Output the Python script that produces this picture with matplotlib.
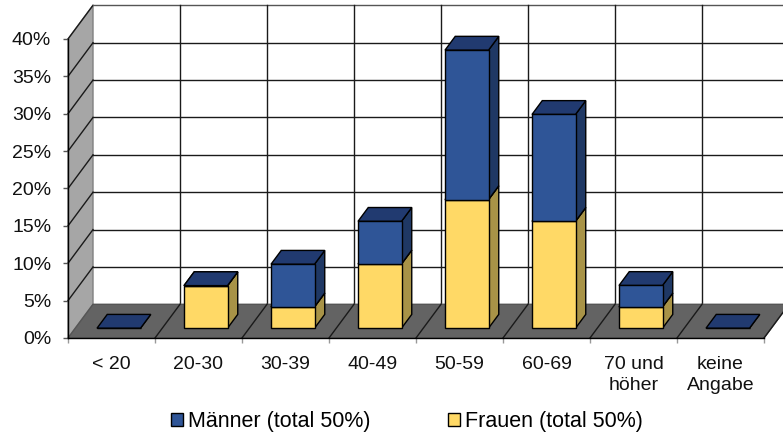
import matplotlib
matplotlib.use('Agg')
import matplotlib.pyplot as plt
from matplotlib.patches import Polygon, Patch

plt.rcParams['font.family'] = ['Liberation Sans', 'DejaVu Sans']

categories = ['< 20', '20-30', '30-39', '40-49', '50-59', '60-69', '70 und\nhöher', 'keine\nAngabe']
frauen = [0, 5.7, 2.86, 8.6, 17.2, 14.3, 2.86, 0]
maenner = [0, 0, 5.7, 5.7, 20.0, 14.3, 2.86, 0]
y_ticks = [0, 5, 10, 15, 20, 25, 30, 35, 40]

W, H = 783, 437
# plot frame in pixels (front plane)
left, right, bottom, top = 68, 764, 338, 39
# how far the back wall is shifted, in data units
depth_x = 25 / 87
depth_y = 33.7 / 7.475

GRID = '#1a1a1a'
BLUE_TOP = '#213a70'
BLUE_SIDE = '#1f3864'


def proj(x, y, z):
    return (x + z * depth_x, y + z * depth_y)


def poly(ax, pts, fc, ec='black', lw=1.0, zorder=3):
    ax.add_patch(Polygon(pts, closed=True, facecolor=fc, edgecolor=ec, linewidth=lw,
                         joinstyle='miter', clip_on=False, zorder=zorder))


def box(ax, x0, x1, y0, y1, z0, z1, front, side, topc, zorder):
    poly(ax, [proj(x1, y0, z0), proj(x1, y0, z1), proj(x1, y1, z1), proj(x1, y1, z0)], side, zorder=zorder)
    poly(ax, [proj(x0, y1, z0), proj(x1, y1, z0), proj(x1, y1, z1), proj(x0, y1, z1)], topc, zorder=zorder)
    poly(ax, [proj(x0, y0, z0), proj(x1, y0, z0), proj(x1, y1, z0), proj(x0, y1, z0)], front, zorder=zorder)


fig = plt.figure(figsize=(W / 100, H / 100), dpi=100, facecolor='white')
ax = fig.add_axes([left / W, 1 - bottom / H, (right - left) / W, (bottom - top) / H])
ax.set_xlim(0, 8)
ax.set_ylim(0, 40)
ax.patch.set_visible(False)
for s in ['top', 'right']:
    ax.spines[s].set_visible(False)
for s in ['left', 'bottom']:
    ax.spines[s].set_linewidth(1.0)
    ax.spines[s].set_zorder(4)

# side wall and floor
poly(ax, [proj(0, 0, 0), proj(0, 0, 1), proj(0, 40, 1), proj(0, 40, 0)], '#a6a6a6', ec='#808080', zorder=1)
poly(ax, [proj(0, 0, 0), proj(8, 0, 0), proj(8, 0, 1), proj(0, 0, 1)], '#636363', ec='#555555', zorder=2)

# grid on the walls
for y in y_ticks[1:]:
    ax.plot(*zip(proj(0, y, 0), proj(0, y, 1)), color=GRID, lw=1.0, clip_on=False, zorder=1.5)
    ax.plot(*zip(proj(0, y, 1), proj(8, y, 1)), color=GRID if y < 40 else '#555555', lw=1.0, clip_on=False, zorder=1.5)
for i in range(1, 9):
    ax.plot(*zip(proj(i, 0, 1), proj(i, 40, 1)), color=GRID, lw=1.0, clip_on=False, zorder=1.5)
    ax.plot(*zip(proj(i, 0, 0), proj(i, 0, 1)), color=GRID, lw=1.0, clip_on=False, zorder=2.5)

# bars
for i in range(len(categories)):
    x0, x1 = i + 0.25, i + 0.75
    z0, z1 = 0.29, 0.70
    zo = 3 + i * 0.1
    if frauen[i] > 0:
        box(ax, x0, x1, 0, frauen[i], z0, z1, '#ffd966', '#a89347', '#ffd966', zo)
    if maenner[i] > 0:
        box(ax, x0, x1, frauen[i], frauen[i] + maenner[i], z0, z1, '#2f5597', BLUE_SIDE, BLUE_TOP, zo + 0.01)
    else:
        # no men in this group: only the flat top shows
        box(ax, x0, x1, frauen[i], frauen[i], z0, z1, BLUE_TOP, BLUE_SIDE, BLUE_TOP, zo + 0.01)

# axes ticks
ax.set_yticks(y_ticks)
ax.set_yticklabels(['%d%%' % y for y in y_ticks], fontsize=14, color='#111111')
ax.tick_params(axis='y', length=3.6, width=1, color='#555555', pad=8.5)
ax.set_xticks(range(9))
ax.set_xticklabels([])
ax.set_xticks([i + 0.5 for i in range(8)], minor=True)
ax.set_xticklabels(categories, minor=True, fontsize=14, color='#111111', linespacing=1.3)
ax.tick_params(axis='x', which='major', length=3.6, width=1, color='#999999')
ax.tick_params(axis='x', which='minor', length=0, pad=13)

handles = [Patch(facecolor='#2f5597', edgecolor='black', label='Männer (total 50%)'),
           Patch(facecolor='#ffd966', edgecolor='black', label='Frauen (total 50%)')]
fig.legend(handles=handles, loc='center left', bbox_to_anchor=(171 / W, 1 - 422 / H), ncol=2,
           frameon=False, fontsize=15.5, handlelength=0.54, handleheight=0.54,
           handletextpad=0.25, columnspacing=3.6, borderpad=0, borderaxespad=0)

fig.savefig('out.png', dpi=100, facecolor='white')
